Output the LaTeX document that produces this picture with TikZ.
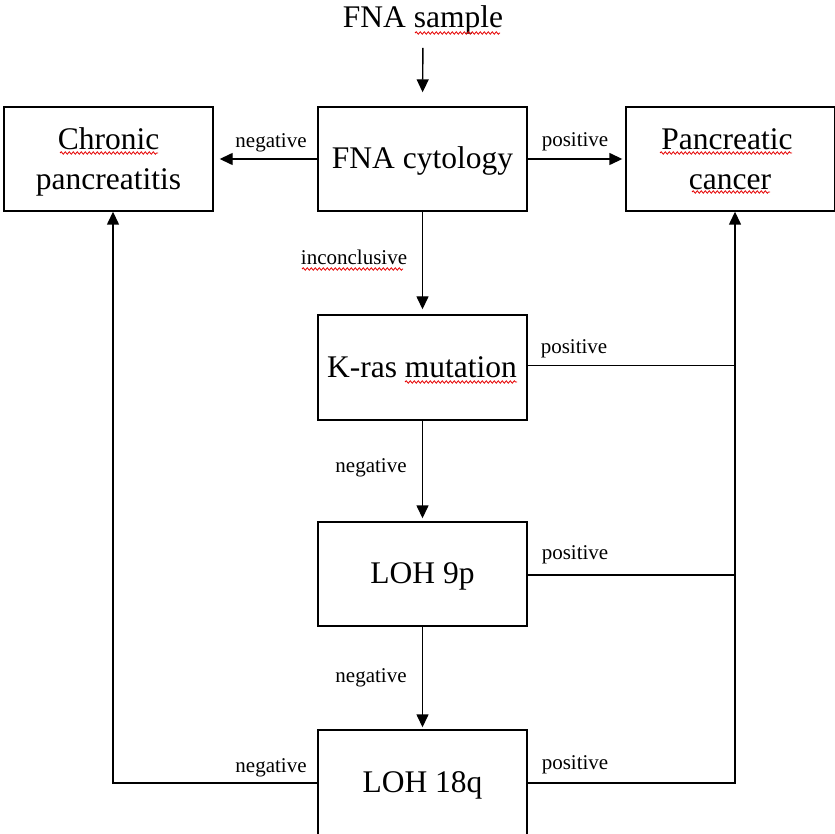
\documentclass[tikz,border=0pt]{standalone}
\usepackage{fontspec}
\setmainfont{Liberation Serif}
\usetikzlibrary{arrows.meta,decorations.pathmorphing}
\begin{document}
\begin{tikzpicture}[x=1pt,y=-1pt,
  box/.style={draw,line width=1.4pt,minimum width=209pt,minimum height=104pt,inner sep=0pt},
  big/.style={font=\fontsize{31.5}{38}\selectfont, anchor=base, inner sep=0pt},
  lbl/.style={font=\fontsize{21}{25}\selectfont, anchor=base, inner sep=0pt},
  conn/.style={line width=1.4pt},
  arr/.style={conn,-{Triangle[length=13pt,width=12pt]}},
  spell/.style={red!90!black,line width=0.8pt,decorate,decoration={snake,segment length=4pt,amplitude=1.2pt}}]
\useasboundingbox (0,0) rectangle (835,834);

% boxes
\node[box] (chronic) at (108.5,159) {};
\node[box] (cyto) at (422.5,159) {};
\node[box] (cancer) at (730.5,159) {};
\node[box,minimum height=105pt] (kras) at (422.5,367.5) {};
\node[box] (loh9) at (422.5,574) {};
\node[box,minimum height=108pt] (loh18) at (422.5,784) {};

% box texts
\node[big] (sample) at (423,28) {FNA sample};
\node[big] (cytot) at (422.5,169) {FNA cytology};
\node[big] (chront1) at (108.5,150) {Chronic};
\node[big] (chront2) at (108.5,190) {pancreatitis};
\node[big] (cancert1) at (727,150) {Pancreatic};
\node[big] (cancert2) at (730,190) {cancer};
\node[big] (krast) at (422,377) {K-ras mutation};
\node[big] (loh9t) at (422.5,583) {LOH 9p};
\node[big] (loh18t) at (422.5,792) {LOH 18q};

% rails
\coordinate (rb) at (735,783);
\coordinate (lb) at (113,783);

% connectors
\draw[arr,shorten <=13pt,shorten >=14pt] (sample.south) -- (cyto.north);
\draw[arr,shorten >=6pt] (cyto.west) -- (chronic.east);
\draw[arr,shorten >=3pt] (cyto.east) -- (cancer.west);
\draw[arr,shorten >=5pt] (cyto.south) -- (kras.north);
\draw[arr,shorten >=3pt] (kras.south) -- (loh9.north);
\draw[arr,shorten >=2pt] (loh9.south) -- (loh18.north);
\draw[conn] ([yshift=2pt]kras.east) -- ([yshift=2pt]kras.east -| rb);
\draw[conn] ([yshift=-1pt]loh9.east) -- ([yshift=-1pt]loh9.east -| rb);
\draw[arr] (loh18.east |- rb) -- (rb) -- (rb |- cancer.south);
\draw[arr] (loh18.west |- lb) -- (lb) -- (lb |- chronic.south);

% labels
\node[lbl] (l1) at (271,148) {negative};
\node[lbl] (l2) at (575,147) {positive};
\node[lbl] (l3) at (354,265) {inconclusive};
\node[lbl] (l4) at (574,353) {positive};
\node[lbl] (l5) at (371,472) {negative};
\node[lbl] (l6) at (575,559) {positive};
\node[lbl] (l7) at (371,682) {negative};
\node[lbl] (l8) at (575,769) {positive};
\node[lbl] (l9) at (271,772) {negative};

% spell-check marks
\draw[spell] (415,33) -- (500,33);
\draw[spell] (60,153) -- (158,153);
\draw[spell] (660,153) -- (792,153);
\draw[spell] (692,192) -- (770,192);
\draw[spell] (302,269) -- (403,269);
\draw[spell] (405,382) -- (517,382);
\end{tikzpicture}
\end{document}
